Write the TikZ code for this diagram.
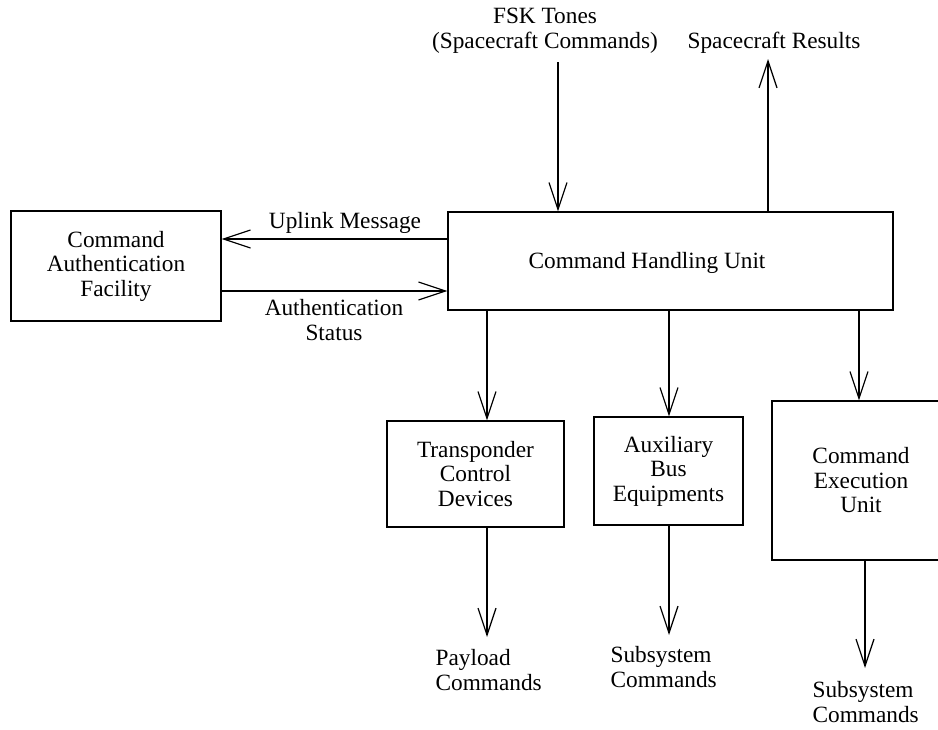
\documentclass[tikz,border=0pt]{standalone}
\usepackage{fontspec}
\setmainfont{Liberation Serif}
\usepackage{color}
\usepackage{tikz}
\usetikzlibrary{arrows.meta}

\begin{document}
\begin{tikzpicture}[x=1pt, y=-1pt, line width=1.2pt,
    font=\fontsize{23.3}{24.5}\selectfont,
    block/.style={rectangle,draw,align=center,inner sep=0pt},
    outtext/.style={align=left,anchor=west,inner xsep=0pt},
    flow/.style={-{Straight Barb[length=27pt,width=18pt]}}]
    \useasboundingbox (0,0) rectangle (938,729);
    \clip (0,0) rectangle (938,729);
    \node[block] (caf) [minimum width=210pt, minimum height=110pt] at (116,266) {Command\\Authentication\\Facility};
    \node[block] (chu) [minimum width=445pt, minimum height=98pt] at (670.5,261) {};
    \node (chutext) at (647,263) {Command Handling Unit};
    \node[block] (tcd) [minimum width=177pt, minimum height=106pt] at (475.5,474) {Transponder\\Control\\Devices};
    \node[block] (abe) [minimum width=149pt, minimum height=108pt] at (668.5,471) {Auxiliary\\Bus\\Equipments};
    \node[block] (ceu) [minimum width=178pt, minimum height=159pt] at (861,480.5) {Command\\Execution\\Unit};
    \node (fsk) [align=center] at (545,31) {FSK Tones\\(Spacecraft Commands)};
    \node (res) at (774,43) {Spacecraft Results};
    \node (uplink) at (345,223) {Uplink Message};
    \node (authst) [align=center] at (334,320) {Authentication\\Status};
    \node (pay) [outtext] at (435,670) {Payload\\Commands};
    \node (sub1) [outtext] at (610,667) {Subsystem\\Commands};
    \node (sub2) [outtext] at (812,702) {Subsystem\\Commands};
    % free ends and connector lines
    \coordinate (fskin) at (558,62);
    \coordinate (resout) at (768,59);
    \coordinate (um) at (0,239);
    \coordinate (as) at (0,291);
    \coordinate (p1) at (487,637);
    \coordinate (p2) at (669,635);
    \coordinate (c3) at (859,0);
    \coordinate (p3) at (865,668);
    \path
    (fskin) edge[flow] (fskin |- chu.north)
    (chu.north -| resout) edge[flow] (resout)
    (chu.west |- um) edge[flow] (caf.east |- um)
    (caf.east |- as) edge[flow] (chu.west |- as)
    (chu.south -| p1) edge[flow] (tcd.north -| p1)
    (chu.south -| p2) edge[flow] (abe.north -| p2)
    (chu.south -| c3) edge[flow] (ceu.north -| c3)
    (tcd.south -| p1) edge[flow] (p1)
    (abe.south -| p2) edge[flow] (p2)
    (ceu.south -| p3) edge[flow] (p3);
\end{tikzpicture}
\end{document}
